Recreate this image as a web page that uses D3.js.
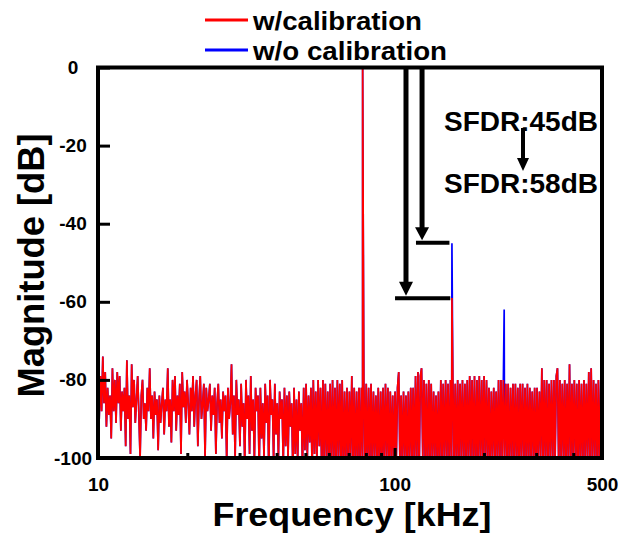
<!DOCTYPE html>
<html><head><meta charset="utf-8">
<script src="https://cdn.jsdelivr.net/npm/d3@7"></script>
<style>
body{margin:0;background:#fff}
text{font-family:"Liberation Sans",Arial,sans-serif;font-weight:bold;fill:#000}
</style>
</head><body>
<svg id="chart" width="635" height="533"></svg>
<script>
// ---------------- data ----------------
const freqMin = 10, freqMax = 500;           // kHz, span of the noise-floor record
// noise floor (dB), sampled evenly in log-frequency from freqMin to freqMax (shared by both traces)
const noiseFloor = [
-84,-90,-79,-88,-74,-86,-78,-92,-82,-89,-84,-95,-77,-88,-80,-91,-78,-86,-79,-93,
-83,-88,-82,-97,-75,-90,-84,-99,-76,-87,-80,-91,-85,-79,-89,-100,-84,-80,-90,-86,
-93,-82,-88,-77,-90,-84,-95,-83,-89,-85,-98,-84,-91,-86,-82,-94,-85,-88,-77,-92,
-85,-96,-80,-88,-79,-93,-84,-89,-81,-99,-78,-87,-83,-91,-80,-86,-94,-82,-88,-79,
-92,-84,-80,-97,-85,-79,-90,-86,-81,-100,-82,-88,-85,-81,-93,-84,-89,-82,-99,-86,
-81,-91,-85,-95,-83,-88,-84,-101,-82,-90,-86,-76,-94,-84,-100,-80,-89,-85,-97,-81,
-92,-86,-102,-80,-90,-84,-99,-79,-93,-85,-101,-82,-88,-84,-103,-82,-95,-86,-100,-81,
-91,-84,-104,-80,-89,-85,-101,-81,-94,-86,-100,-83,-90,-85,-102,-82,-97,-84,-100,-83,
-92,-86,-104,-82,-99,-85,-101,-83,-93,-86,-103,-82,-98,-81,-100,-84,-96,-82,-104,-80,
-99,-83,-101,-80,-97,-82,-105,-80,-100,-81,-102,-83,-101,-81,-103,-80,-101,-82,-104,-80,
-100,-81,-102,-80,-105,-83,-101,-82,-103,-83,-100,-79,-102,-82,-104,-83,-101,-82,-103,-82,
-100,-81,-102,-81,-104,-82,-101,-81,-103,-83,-100,-84,-102,-82,-105,-83,-101,-82,-103,-81,
-100,-82,-104,-83,-101,-84,-103,-83,-100,-82,-78,-101,-84,-103,-83,-100,-84,-104,-83,-101,
-82,-102,-82,-103,-79,-101,-78,-104,-79,-77,-100,-80,-102,-81,-105,-80,-101,-81,-103,-83,
-100,-84,-102,-83,-104,-80,-101,-81,-103,-80,-100,-81,-102,-80,-103,-80,-101,-81,-104,-80,
-102,-81,-100,-80,-103,-81,-101,-80,-104,-79,-100,-80,-102,-79,-105,-80,-101,-79,-103,-80,
-100,-79,-102,-80,-101,-82,-104,-83,-100,-82,-102,-83,-101,-80,-103,-80,-100,-80,-102,-81,
-101,-81,-104,-82,-100,-81,-103,-81,-101,-82,-105,-81,-100,-81,-102,-82,-101,-81,-103,-82,
-100,-83,-102,-82,-104,-82,-101,-83,-100,-77,-103,-80,-101,-80,-104,-81,-100,-80,-102,-80,
-101,-79,-77,-103,-80,-100,-81,-102,-80,-104,-81,-101,-76,-103,-81,-100,-80,-102,-81,-105,
-80,-101,-81,-103,-80,-100,-81,-102,-78,-101,-77,-103,-80,-100,-81,-102,-80,-104,-80,-82
];
// tones: fundamental, 2nd and 3rd harmonic (kHz)
const harmonicFreqs      = [78, 156, 234];
const harmonicWithCal    = [0, -59, null];   // red trace
const harmonicWithoutCal = [0, -45, -62];    // blue trace
const seriesNames  = ["w/calibration", "w/o calibration"];
const seriesColors = ["#ff0000", "#0000ff"];
const xMajorTicks = [10, 100, 500];
const xMinorTicks = [20, 30, 40, 50, 60, 70, 80, 90, 200, 300, 400];
const yTicks = [0, -20, -40, -60, -80, -100];
const sfdrLabels = ["SFDR:45dB", "SFDR:58dB"];

// ---------------- layout ----------------
const svg = d3.select("#chart");
const L = 98, R = 602, T = 67.5, B = 458;
const x = d3.scaleLog().domain([freqMin, freqMax]).range([L, R]);
const y = d3.scaleLinear().domain([-100, 0]).range([B, T]);

const noiseFreqs = noiseFloor.map((_, i) =>
  freqMin * Math.pow(freqMax / freqMin, i / (noiseFloor.length - 1)));

function buildSeries(harm) {
  const pts = noiseFloor.map((v, i) => ({f: noiseFreqs[i], v}));
  harmonicFreqs.forEach((f, k) => { if (harm[k] != null) pts.push({f, v: harm[k]}); });
  return pts.sort((a, b) => a.f - b.f);
}
const seriesData = [buildSeries(harmonicWithCal), buildSeries(harmonicWithoutCal)];

svg.append("defs").append("clipPath").attr("id", "plotClip")
  .append("rect").attr("x", L).attr("y", T).attr("width", R - L).attr("height", B - T);

const line = d3.line().x(d => x(d.f)).y(d => y(d.v));
const plot = svg.append("g").attr("clip-path", "url(#plotClip)");
// blue first, red on top
[1, 0].forEach(k => {
  plot.append("path").datum(seriesData[k])
    .attr("d", line).attr("fill", "none")
    .attr("stroke", seriesColors[k]).attr("stroke-width", 1.7);
});

// ---------------- axes ----------------
const fmt = d => String(d);
const xAxisG = svg.append("g").attr("transform", `translate(0,${B})`)
  .call(d3.axisBottom(x).tickValues(xMajorTicks).tickFormat(fmt).tickSize(-10).tickPadding(20));
svg.append("g").attr("transform", `translate(0,${B})`)
  .call(d3.axisBottom(x).tickValues(xMinorTicks).tickFormat("").tickSize(-5));
const yAxisG = svg.append("g").attr("transform", `translate(${L},0)`)
  .call(d3.axisLeft(y).tickValues(yTicks).tickFormat(fmt).tickSize(-12));
svg.selectAll(".domain").remove();
svg.selectAll(".tick line").attr("stroke", "#000").attr("stroke-width", 3);
svg.selectAll(".tick text").attr("font-size", 19).attr("fill", "#000")
  .style("font-family", "'Liberation Sans',Arial,sans-serif").style("font-weight", "bold");
yAxisG.selectAll(".tick text").attr("text-anchor", "middle").attr("x", -25);

// frame
svg.append("rect").attr("x", L).attr("y", T).attr("width", R - L).attr("height", B - T)
  .attr("fill", "none").attr("stroke", "#000").attr("stroke-width", 4);

// axis titles
svg.append("text").attr("x", 352).attr("y", 525.5).attr("text-anchor", "middle")
  .attr("font-size", 33).attr("textLength", 279).attr("lengthAdjust", "spacingAndGlyphs")
  .text("Frequency [kHz]");
svg.append("text").attr("transform", "translate(44,265.5) rotate(-90)").attr("text-anchor", "middle")
  .attr("font-size", 36).attr("textLength", 264).attr("lengthAdjust", "spacingAndGlyphs")
  .text("Magnitude [dB]");

// legend
const legendW = [169, 194];
seriesNames.forEach((name, k) => {
  const ly = 20 + 30 * k;
  svg.append("line").attr("x1", 205).attr("x2", 248).attr("y1", ly).attr("y2", ly)
    .attr("stroke", seriesColors[k]).attr("stroke-width", 3);
  svg.append("text").attr("x", 253).attr("y", ly + 9.5).attr("font-size", 25)
    .attr("textLength", legendW[k]).attr("lengthAdjust", "spacingAndGlyphs").text(name);
});

// ---------------- annotations ----------------
function arrowDown(xp, y1, y2, w, headW, headH) {
  svg.append("line").attr("x1", xp).attr("x2", xp).attr("y1", y1).attr("y2", y2 - headH + 1)
    .attr("stroke", "#000").attr("stroke-width", w);
  svg.append("path").attr("d", `M${xp - headW / 2},${y2 - headH}L${xp + headW / 2},${y2 - headH}L${xp},${y2}Z`)
    .attr("fill", "#000");
}
// level markers of the 2nd harmonic with / without calibration
svg.append("line").attr("x1", x(118)).attr("x2", x(153)).attr("y1", y(-44.9)).attr("y2", y(-44.9))
  .attr("stroke", "#000").attr("stroke-width", 4);
svg.append("line").attr("x1", x(100.3)).attr("x2", x(154)).attr("y1", y(-59.1)).attr("y2", y(-59.1))
  .attr("stroke", "#000").attr("stroke-width", 4);
arrowDown(x(123.7), T, y(-44.9) - 2.5, 5, 14, 13);
arrowDown(x(109.2), T, y(-59.1) - 2.5, 5, 14, 14);

// SFDR text
svg.append("text").attr("x", 521).attr("y", 131).attr("text-anchor", "middle").attr("font-size", 28).text(sfdrLabels[0]);
svg.append("text").attr("x", 521).attr("y", 193).attr("text-anchor", "middle").attr("font-size", 28).text(sfdrLabels[1]);
arrowDown(523, 128, 171, 4, 12, 13);
</script>
</body></html>
